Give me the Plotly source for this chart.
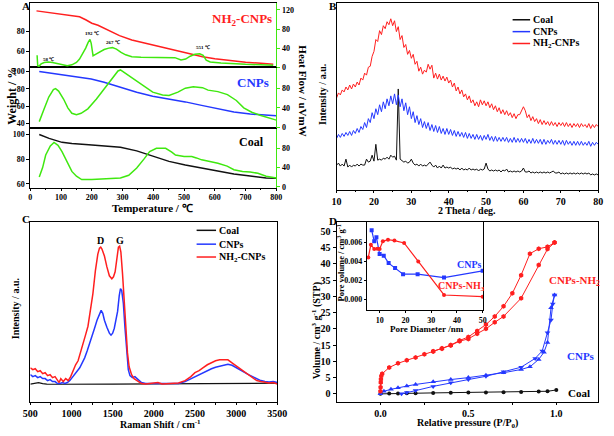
import plotly.graph_objects as go

W, H = 614, 436
def X(px): return px / W
def Y(py): return 1 - py / H

FONT = "Liberation Serif"
RED, BLUE, GREEN, BLACK = "#ff1f1f", "#2438ff", "#3fe80f", "#111111"

# ---------------- Panel A (TGA / DSC) ----------------
nh2_tga_T = [20, 60, 100, 140, 160, 180, 200, 220, 250, 290, 330, 370, 420, 470, 520, 560, 600, 650, 700, 750, 790]
nh2_tga_w = [101, 99.5, 98, 96.5, 95, 92, 88.5, 86.5, 82, 76, 71.5, 68.5, 64.5, 60.5, 57, 54.5, 52.5, 50.5, 49, 48, 47]
nh2_dsc_T = [22, 24, 28, 35, 45, 58, 72, 90, 105, 120, 135, 150, 160, 170, 180, 188, 194, 198, 201, 204, 212, 225,
             240, 255, 267, 280, 295, 310, 330, 360, 400, 440, 470, 490, 505, 520, 535, 551, 562, 572, 585, 620, 660,
             700, 750, 790]
nh2_dsc_h = [25, 3, 2, 7, 10, 11, 10, 7, 4, 3, 5, 10, 17, 28, 40, 52, 58, 50, 30, 24, 27, 32,
             37, 40, 41, 38, 31, 26, 22, 21, 21, 21, 20, 15, 17, 23, 27, 28, 25, 15, 11, 9, 7,
             6, 5, 4]

cnp_tga_T = [29, 80, 135, 198, 240, 293, 346, 398, 451, 504, 557, 610, 662, 715, 767, 800]
cnp_tga_w = [100, 97.5, 94.3, 91.3, 87.5, 81.8, 76, 71.6, 68.5, 65, 61, 57, 53.4, 51, 49.5, 49]
cnp_dsc_T = [29, 38, 45, 60, 75, 82, 92, 108, 122, 135, 150, 165, 187, 215, 240, 265, 285, 293, 310, 346, 398,
             430, 451, 480, 504, 530, 560, 578, 610, 641, 670, 694, 720, 747, 775, 800]
cnp_dsc_h = [12, 25, 38, 62, 77, 79, 74, 58, 40, 29, 26, 29, 38, 58, 78, 98, 115, 117, 110, 95, 72,
             66, 65, 72, 80, 83, 81, 76, 73, 67, 55, 40, 31, 25, 19, 15]

coal_tga_T = [29, 61, 103, 135, 190, 240, 293, 346, 398, 451, 504, 557, 610, 662, 715, 767, 800]
coal_tga_w = [100, 96.8, 93.6, 92.6, 91.7, 90.7, 89.6, 86.7, 82.2, 78.2, 75.3, 72.8, 70.3, 68, 66.3, 64.8, 64.5]
coal_dsc_T = [29, 40, 50, 65, 77, 90, 103, 120, 135, 150, 167, 200, 240, 293, 320, 346, 370, 388, 410, 440, 460,
              472, 500, 525, 540, 557, 580, 610, 640, 662, 690, 715, 740, 767, 800]
coal_dsc_h = [20.5, 40, 66, 85, 92, 86, 73, 50, 32, 22, 15, 15, 17, 18.5, 24, 39, 58, 73, 80, 80, 72,
              66, 63, 63, 60, 56, 53, 49, 43, 35.5, 32, 31, 28, 22, 18.5]

# ---------------- Panel B (XRD) ----------------
xrd_theta = [10 + 0.5 * i for i in range(141)]
xrd_nh2 = [93, 98, 96, 101, 99, 104, 101, 106, 102, 107,
           104, 109, 106, 113, 111, 118, 116, 124, 125, 135,
           140, 152, 150, 161, 157, 166, 163, 170, 167, 173,
           166, 171, 160, 165, 152, 156, 144, 147, 137, 141,
           133, 137, 127, 130, 120, 124, 117, 121, 119, 127,
           122, 126, 113, 118, 112, 117, 111, 115, 110, 114,
           108, 111, 104, 108, 100, 104, 97, 101, 94, 97,
           91, 95, 88, 91, 85, 89, 84, 91, 86, 90,
           85, 89, 83, 87, 81, 85, 79, 83, 77, 81,
           76, 80, 75, 78, 73, 77, 72, 76, 76, 80,
           84, 80, 73, 76, 70, 74, 69, 72, 67, 71,
           66, 70, 66, 69, 65, 69, 65, 68, 64, 68,
           65, 68, 64, 68, 64, 67, 63, 67, 64, 67,
           63, 67, 64, 66, 63, 67, 62, 66, 63, 66,
           64]
xrd_cnp = [52, 56, 53, 57, 54, 58, 55, 59, 55, 60,
           57, 62, 58, 64, 61, 68, 63, 72, 68, 78,
           72, 82, 76, 86, 79, 89, 82, 92, 85, 95,
           87, 97, 86, 96, 84, 92, 80, 88, 76, 84,
           72, 79, 68, 75, 66, 72, 63, 69, 62, 68,
           60, 66, 59, 65, 58, 64, 57, 62, 56, 62,
           56, 61, 55, 60, 54, 59, 54, 58, 53, 58,
           52, 57, 52, 56, 51, 56, 51, 55, 50, 55,
           51, 56, 50, 54, 49, 54, 49, 53, 49, 53,
           49, 53, 48, 52, 48, 53, 48, 52, 48, 52,
           48, 52, 47, 51, 47, 52, 47, 51, 47, 51,
           46, 51, 46, 50, 47, 51, 46, 50, 46, 50,
           46, 50, 45, 50, 46, 49, 45, 49, 45, 49,
           45, 49, 45, 48, 45, 49, 44, 48, 45, 48,
           46]
xrd_coal = [25, 27, 24, 26, 24, 31, 23, 25, 23, 25,
            24, 26, 24, 26, 25, 25, 31, 28, 29, 35,
            29, 46, 30, 31, 30, 32, 31, 33, 31, 35,
            33, 34, 30, 102, 31, 29, 28, 29, 27, 28,
            31, 27, 25, 26, 24, 26, 24, 25, 24, 26,
            28, 25, 23, 25, 22, 24, 22, 25, 22, 23,
            22, 23, 21, 22, 21, 22, 20, 22, 20, 21,
            20, 22, 20, 21, 20, 21, 19, 21, 20, 21,
            27, 21, 19, 20, 19, 20, 19, 20, 18, 20,
            19, 21, 18, 19, 18, 19, 18, 19, 18, 19,
            22, 18, 18, 19, 17, 18, 17, 18, 17, 18,
            17, 18, 17, 18, 17, 18, 19, 17, 17, 18,
            16, 17, 16, 17, 16, 17, 16, 17, 16, 17,
            16, 17, 16, 17, 16, 17, 15, 16, 15, 16,
            15]

# ---------------- Panel C (Raman) ----------------
ram_nh2_x = [500, 530, 560, 590, 620, 650, 680, 710, 740, 770, 800, 830, 850, 870, 900, 930, 960, 990, 1020, 1050,
             1080, 1110, 1140, 1170, 1200, 1230, 1260, 1290, 1320, 1340, 1355, 1370, 1400, 1430, 1460, 1490, 1510,
             1530, 1550, 1570, 1585, 1600, 1620, 1640, 1660, 1680, 1700, 1730, 1760, 1800, 1850, 1900, 2000, 2050,
             2100, 2200, 2300, 2380, 2450, 2500, 2550, 2600, 2650, 2700, 2750, 2800, 2850, 2900, 2950, 3000, 3050,
             3100, 3150, 3200, 3250, 3300, 3350, 3400, 3450, 3500]
ram_nh2_y = [35, 33, 34, 31, 32, 29, 30, 27, 28, 25, 26, 22, 20, 24, 21, 24, 22, 26, 33, 38,
             42, 50, 59, 68, 77, 92, 110, 133, 150, 156, 157, 155, 148, 137, 128, 125, 127,
             132, 145, 157, 158, 152, 130, 100, 72, 50, 36, 28, 24, 22, 19, 18.5, 19, 20,
             18.5, 19, 19.5, 22, 26, 30, 32, 35, 38, 40, 42, 43, 43, 43, 40, 37, 34,
             31, 28, 25, 22, 21, 20, 19.5, 20, 18.5]
ram_cnp_x = [500, 530, 560, 590, 620, 650, 680, 710, 740, 770, 800, 830, 860, 890, 920, 950, 980, 1010, 1040, 1070,
             1100, 1130, 1160, 1190, 1220, 1250, 1280, 1310, 1340, 1360, 1380, 1400, 1430, 1460, 1480, 1500, 1520,
             1540, 1560, 1580, 1595, 1610, 1630, 1650, 1670, 1690, 1710, 1740, 1770, 1800, 1850, 1900, 2000, 2100,
             2200, 2300, 2380, 2450, 2500, 2550, 2600, 2650, 2700, 2750, 2800, 2850, 2900, 2950, 3000, 3050, 3100,
             3150, 3200, 3250, 3300, 3350, 3400, 3450, 3500]
ram_cnp_y = [28, 26, 27, 25, 26, 24, 24, 22, 23, 21, 21, 19, 19, 20, 19, 20, 22, 25, 28, 31,
             35, 40, 45, 52, 59, 67, 75, 83, 90, 93, 90, 83, 76, 70, 68, 70, 75,
             82, 92, 108, 115, 113, 100, 75, 48, 33, 27, 25, 26, 24, 20, 19, 19, 18.5,
             18.5, 19, 21, 24, 26, 28, 30, 32, 34, 35.5, 36.5, 37.5, 38.5, 37.5, 35, 33, 30,
             28, 26, 24, 22, 21, 20.5, 21, 20]
ram_coal_x = [500, 550, 600, 650, 700, 800, 1000, 1500, 2000, 2500, 3000, 3200, 3500]
ram_coal_y = [18.5, 19, 20, 19, 18.5, 18.3, 18.5, 18.5, 18.6, 18.7, 18.8, 19.2, 19.4]

# ---------------- Panel D (N2 isotherms) ----------------
iso_nh2_ads_p = [0.0, 0.001, 0.002, 0.003, 0.005, 0.01, 0.05, 0.1, 0.15, 0.2, 0.25, 0.3, 0.35, 0.4, 0.45, 0.5,
                 0.55, 0.6, 0.65, 0.7, 0.8, 0.9, 0.95, 0.99]
iso_nh2_ads_v = [0.8, 2, 3.5, 4.5, 5.5, 6.2, 8.1, 9.4, 10.3, 11.2, 12.2, 13.0, 13.9, 14.9, 16.2, 16.9,
                 18.5, 20.0, 22, 23.8, 29.4, 39.6, 44.5, 46.5]
iso_nh2_des_p = [0.99, 0.95, 0.9, 0.85, 0.8, 0.75, 0.7, 0.65, 0.6, 0.55, 0.5, 0.45, 0.4, 0.35, 0.3]
iso_nh2_des_v = [46.5, 45.2, 44.6, 43.1, 36.5, 30.9, 26.9, 23.8, 21.3, 19.3, 17.5, 16.4, 15.0, 14.0, 13.1]
iso_cnp_up_p = [0.0, 0.02, 0.06, 0.1, 0.15, 0.2, 0.3, 0.4, 0.5, 0.6, 0.7, 0.8, 0.85, 0.9, 0.93, 0.95, 0.97, 0.99]
iso_cnp_up_v = [0.0, 0.8, 1.4, 1.9, 2.4, 2.9, 3.7, 4.4, 5.0, 5.7, 6.5, 7.5, 8.3, 10.6, 12.8, 15.8, 26.5, 30.4]
iso_cnp_dn_p = [0.99, 0.98, 0.97, 0.95, 0.92, 0.88, 0.8, 0.7, 0.6, 0.5, 0.4, 0.3, 0.2, 0.15, 0.12]
iso_cnp_dn_v = [30.4, 27.6, 22.7, 18.8, 13.2, 10.9, 8.2, 6.8, 5.4, 4.4, 3.4, 2.3, 1.0, 0.4, 0.0]
iso_coal_p = [0, 0.05, 0.1, 0.15, 0.2, 0.3, 0.4, 0.5, 0.6, 0.7, 0.8, 0.9, 0.95, 1.0]
iso_coal_v = [0, 0.1, 0.1, 0.2, 0.2, 0.3, 0.35, 0.4, 0.45, 0.5, 0.6, 0.7, 0.8, 1.2]

pore_cnp_d = [6.9, 7.9, 8.75, 10, 11.6, 13.5, 16, 19.1, 24.75, 35, 50]
pore_cnp_v = [0.00728, 0.0061, 0.00653, 0.00476, 0.00458, 0.0038, 0.00327, 0.00263, 0.00263, 0.00227, 0.00298]
pore_nh2_d = [5.6, 6.6, 7.9, 9.1, 10, 11.25, 13.25, 15.75, 19.5, 25, 35, 50]
pore_nh2_v = [0.0044, 0.00575, 0.00529, 0.00532, 0.00529, 0.0061, 0.00628, 0.00618, 0.00593, 0.00398, 0.00043, 0.00025]

fig = go.Figure()

def line(x, y, xa, ya, color, width=1.5, mode="lines", **kw):
    fig.add_trace(go.Scatter(x=x, y=y, xaxis=xa, yaxis=ya, mode=mode,
                             line=dict(color=color, width=width), showlegend=False, **kw))

# Panel A
line(coal_tga_T, coal_tga_w, "x", "y", BLACK)
line(coal_dsc_T, coal_dsc_h, "x", "y2", GREEN)
line(cnp_tga_T, cnp_tga_w, "x2", "y3", BLUE)
line(cnp_dsc_T, cnp_dsc_h, "x2", "y4", GREEN)
line(nh2_tga_T, nh2_tga_w, "x3", "y5", RED)
line(nh2_dsc_T, nh2_dsc_h, "x3", "y6", GREEN)

# Panel B
line(xrd_theta, xrd_coal, "x4", "y7", BLACK, 1)
line(xrd_theta, xrd_cnp, "x4", "y7", BLUE, 1)
line(xrd_theta, xrd_nh2, "x4", "y7", RED, 1)

# Panel C
line(ram_coal_x, ram_coal_y, "x5", "y8", BLACK, 1.2)
line(ram_cnp_x, ram_cnp_y, "x5", "y8", BLUE, 1.5)
line(ram_nh2_x, ram_nh2_y, "x5", "y8", RED, 1.5)

# Panel D
mk = "lines+markers"
line(iso_coal_p, iso_coal_v, "x6", "y9", BLACK, 1, mk, marker=dict(symbol="circle", size=4, color=BLACK))
line(iso_cnp_up_p, iso_cnp_up_v, "x6", "y9", BLUE, 1, mk, marker=dict(symbol="triangle-up", size=5, color=BLUE))
line(iso_cnp_dn_p, iso_cnp_dn_v, "x6", "y9", BLUE, 1, mk, marker=dict(symbol="triangle-down", size=5, color=BLUE))
line(iso_nh2_ads_p, iso_nh2_ads_v, "x6", "y9", RED, 1, mk, marker=dict(symbol="hexagon", size=5, color=RED))
line(iso_nh2_des_p, iso_nh2_des_v, "x6", "y9", RED, 1, mk, marker=dict(symbol="hexagon", size=5, color=RED))

# Inset
line(pore_cnp_d, pore_cnp_v, "x7", "y10", BLUE, 1.2, mk, marker=dict(symbol="square", size=4, color=BLUE))
line(pore_nh2_d, pore_nh2_v, "x7", "y10", RED, 1.2, mk, marker=dict(symbol="circle", size=4, color=RED))

def ax(**kw):
    d = dict(showline=True, linecolor="black", linewidth=1, ticks="outside", ticklen=3,
             tickcolor="black", zeroline=False, showgrid=False,
             tickfont=dict(family=FONT, size=9, color="black", weight="bold"))
    d.update(kw)
    return d

def tf(s):
    return dict(family=FONT, size=s, color="black", weight="bold")

xa = [X(24), X(277)]
lay = dict(
    width=W, height=H, margin=dict(l=0, r=0, t=0, b=0),
    paper_bgcolor="white", plot_bgcolor="white",
    font=dict(family=FONT, size=10, weight="bold", color="black"),
    # Panel A bottom (Coal)
    xaxis=ax(domain=xa, anchor="y", range=[0, 800], dtick=100, mirror=True, tickfont=tf(8), ticklen=2,
             minor=dict(dtick=50, ticks="outside", ticklen=1.5)),
    yaxis=ax(domain=[Y(190), Y(129)], anchor="x", range=[56.8, 105.6], tickvals=[60, 80, 100], tickfont=tf(8)),
    yaxis2=ax(overlaying="y", side="right", anchor="x", range=[-2, 123], tickvals=[0, 40, 80],
              linecolor=GREEN, tickcolor=GREEN, tickfont=tf(8)),
    # Panel A middle (CNPs)
    xaxis2=ax(domain=xa, anchor="y3", range=[0, 800], mirror=True, ticks="", showticklabels=False),
    yaxis3=ax(domain=[Y(129), Y(68)], anchor="x2", range=[35.5, 104.9], tickvals=[40, 60, 80, 100], tickfont=tf(8)),
    yaxis4=ax(overlaying="y3", side="right", anchor="x2", range=[0, 122.6], tickvals=[0, 40, 80],
              linecolor=GREEN, tickcolor=GREEN, tickfont=tf(8)),
    # Panel A top (NH2-CNPs)
    xaxis3=ax(domain=xa, anchor="y5", range=[0, 800], mirror=True, ticks="", showticklabels=False),
    yaxis5=ax(domain=[Y(68), Y(3)], anchor="x3", range=[44, 109], tickvals=[60, 80], tickfont=tf(8)),
    yaxis6=ax(overlaying="y5", side="right", anchor="x3", range=[0, 134.5], tickvals=[0, 40, 80, 120],
              linecolor=GREEN, tickcolor=GREEN, tickfont=tf(8)),
    # Panel B
    xaxis4=ax(domain=[X(339), X(608)], anchor="y7", range=[10, 80], dtick=10, mirror=True, tickfont=tf(10),
              ticklen=2, minor=dict(dtick=5, ticks="outside", ticklen=1.5)),
    yaxis7=ax(domain=[Y(192), Y(3)], anchor="x4", range=[0, 189], mirror=True, ticks="", showticklabels=False),
    # Panel C
    xaxis5=ax(domain=[X(24), X(278)], anchor="y8", range=[500, 3500], dtick=500, mirror=True, tickfont=tf(10),
              ticklen=2, minor=dict(dtick=250, ticks="outside", ticklen=1.5)),
    yaxis8=ax(domain=[Y(407), Y(225)], anchor="x5", range=[0, 182], mirror=True, ticks="", showticklabels=False),
    # Panel D
    xaxis6=ax(domain=[X(339), X(608)], anchor="y9", range=[-0.249, 1.238], tick0=0, dtick=0.5, tickformat=".1f",
              mirror=True, tickfont=tf(10), ticklen=2,
              minor=dict(tick0=0, dtick=0.25, ticks="outside", ticklen=1.5)),
    yaxis9=ax(domain=[Y(407), Y(225)], anchor="x6", range=[-2.6, 52.7], dtick=5, mirror=True, tickfont=tf(10)),
    # Inset
    xaxis7=ax(domain=[X(370), X(490)], anchor="y10", range=[5, 50.3], tickvals=[10, 20, 30, 40, 50],
              mirror=True, tickfont=tf(8), ticklen=2),
    yaxis10=ax(domain=[Y(314), Y(225)], anchor="x7", range=[-0.0012, 0.0081], tickvals=[0, 0.002, 0.004, 0.006],
               tickformat=".3f", mirror=True, tickfont=tf(8), ticklen=2),
)
fig.update_layout(**lay)

def note(text, px, py, size, color="black", angle=0, xanchor="center"):
    fig.add_annotation(text=text, x=X(px), y=Y(py), xref="paper", yref="paper", showarrow=False,
                       textangle=angle, xanchor=xanchor, yanchor="middle",
                       font=dict(family=FONT, size=size, color=color, weight="bold"))

# Panel letters
note("A", 20, 6, 11)
note("B", 335, 6, 11)
note("C", 20, 222, 11)
note("D", 335, 224, 11)

# Panel A texts
note("Temperature / ℃", 150, 210, 11)
note("Weight / %", 5, 97, 12, angle=-90)
note("Heat Flow / uVmW", 304, 92, 11, angle=90)
note("NH<sub>2</sub>-CNPs", 242, 20, 13, RED)
note("CNPs", 253, 83, 13, BLUE)
note("Coal", 251, 144, 12)
note("58 ℃", 43, 60, 5)
note("192 ℃", 87, 34, 5)
note("267 ℃", 109, 43, 5)
note("551 ℃", 202, 48, 5)

# Panel B texts
note("2 Theta / deg.", 473, 213, 10)
note("Intensity / a.u.", 325, 95, 10, angle=-90)

# Panel C texts
note("Raman Shift / cm<sup>-1</sup>", 158, 429, 10)
note("Intensity / a.u.", 9, 312, 10, angle=-90)
note("D", 96, 243, 10)
note("G", 116, 243, 10)

# Panel D texts
note("Relative pressure (P/P<sub>0</sub>)", 474, 428, 10)
note("Volume / cm<sup>3</sup> g<sup>-1</sup> (STP)", 318, 335, 10, angle=-90)
note("CNPs-NH<sub>2</sub>", 584, 284, 11, RED)
note("CNPs", 590, 360, 11, BLUE)
note("Coal", 588, 398, 11)
note("Pore Diameter /nm", 432, 333, 9)
note("Pore volume / cm<sup>3</sup> g<sup>-1</sup>", 344, 266, 8.5, angle=-90)
note("CNPs", 476, 268, 10, BLUE)
note("CNPs-NH<sub>3</sub>", 467, 290, 10, RED)

# Legends (B and C) drawn as sample lines + text
def legend_entry(px0, px1, py, color, label, size):
    fig.add_shape(type="line", xref="paper", yref="paper", x0=X(px0), x1=X(px1), y0=Y(py), y1=Y(py),
                  line=dict(color=color, width=1.5))
    note(label, px1 + 1, py, size, xanchor="left")

legend_entry(520, 538, 20, BLACK, "Coal", 10)
legend_entry(520, 538, 32, BLUE, "CNPs", 10)
legend_entry(520, 538, 44, RED, "NH<sub>2</sub>-CNPs", 10)
legend_entry(195, 215, 233, BLACK, "Coal", 10)
legend_entry(195, 215, 247, BLUE, "CNPs", 10)
legend_entry(195, 215, 260, RED, "NH<sub>2</sub>-CNPs", 10)

fig.write_html("out.html")
